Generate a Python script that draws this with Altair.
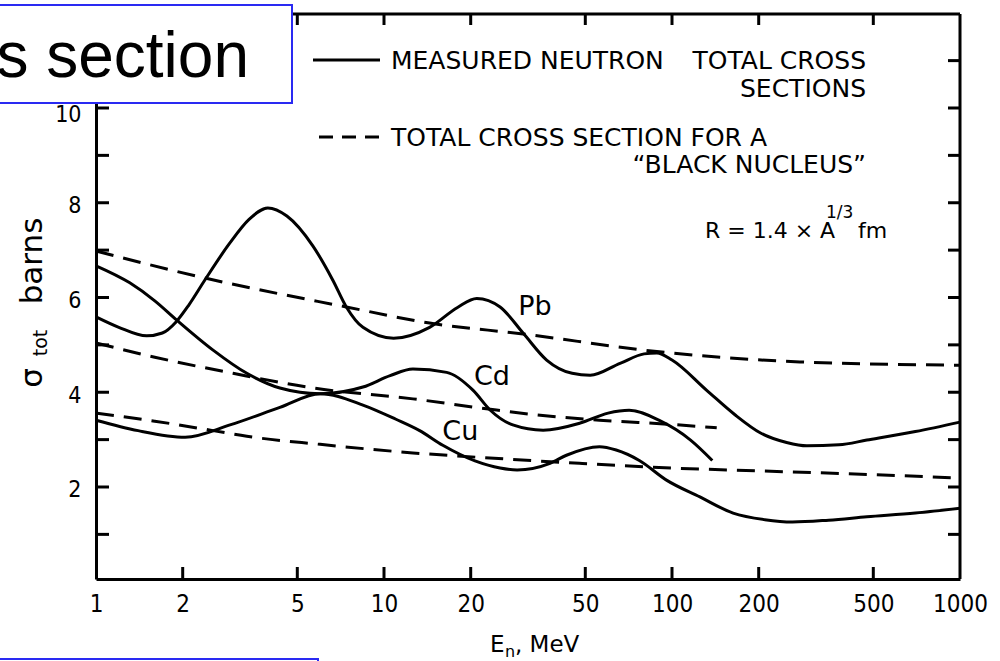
import altair as alt
import pandas as pd

# Neutron energy ticks (MeV) and cross-section ticks (barns)
x_label_values = [1, 2, 5, 10, 20, 50, 100, 200, 500, 1000]
x_inner_ticks = [2, 5, 10, 20, 50, 100, 200, 500]
y_label_values = [2, 4, 6, 8, 10]
y_ticks = [1, 2, 3, 4, 5, 6, 7, 8, 9, 10, 11]

# Measured neutron total cross sections (MeV, barns)
pb_e = [1, 1.2, 1.5, 1.7, 1.9, 2.1, 2.4, 2.9, 3.4, 3.95, 4.6, 5.66, 6.65, 7.4, 8.45, 10.8,
        14.4, 18, 21, 25.3, 30.4, 36.7, 45, 52, 66, 80, 88.6, 100, 132, 165, 203, 250,
        294, 380, 475, 700, 1000]
pb_s = [5.59, 5.37, 5.19, 5.25, 5.49, 5.84, 6.39, 7.13, 7.65, 7.89, 7.72, 7.09, 6.36, 5.80, 5.37, 5.14,
        5.37, 5.79, 5.98, 5.80, 5.25, 4.68, 4.40, 4.36, 4.61, 4.81, 4.83, 4.68, 4.04, 3.53, 3.14, 2.94,
        2.87, 2.89, 2.99, 3.17, 3.37]

cd_e = [1, 1.31, 1.6, 1.91, 2.55, 3.34, 4.35, 6.0, 8.45, 10.5, 12.6, 16.5, 20.4, 23.4, 28,
        35.7, 48, 60, 71, 90, 116, 138]
cd_s = [6.67, 6.31, 5.93, 5.52, 4.89, 4.40, 4.09, 3.97, 4.11, 4.35, 4.49, 4.42, 4.04, 3.62, 3.31,
        3.20, 3.35, 3.56, 3.62, 3.41, 2.99, 2.56]

cu_e = [1, 1.4, 2.04, 2.92, 4.35, 6.0, 8.45, 11, 13.3, 16, 20.7, 25.3, 29, 37.7, 43, 56, 64,
        77, 96, 125, 163, 210, 262, 350, 475, 700, 1000]
cu_s = [3.41, 3.19, 3.05, 3.31, 3.68, 3.97, 3.73, 3.43, 3.19, 2.88, 2.55, 2.40, 2.36, 2.50, 2.67, 2.85,
        2.78, 2.56, 2.14, 1.79, 1.45, 1.31, 1.26, 1.30, 1.37, 1.45, 1.55]

# Black-nucleus total cross sections, R = 1.4 A^(1/3) fm
pb_black_e = [1, 2.39, 7.4, 14.4, 30.4, 88.6, 278, 1000]
pb_black_s = [6.98, 6.41, 5.80, 5.46, 5.23, 4.86, 4.64, 4.57]

cd_black_e = [1, 1.6, 2.99, 5.66, 12.6, 23.4, 33, 56, 100, 143]
cd_black_s = [5.04, 4.74, 4.40, 4.09, 3.86, 3.64, 3.53, 3.41, 3.32, 3.25]

cu_black_e = [1, 1.6, 2.55, 3.34, 6, 12.6, 25, 47.7, 100, 200, 362, 1000]
cu_black_s = [3.56, 3.39, 3.19, 3.07, 2.90, 2.72, 2.60, 2.50, 2.40, 2.34, 2.29, 2.19]

# Curve labels: name, energy, cross section
curve_names = ["Pb", "Cd", "Cu"]
curve_label_e = [33.4, 23.7, 18.4]
curve_label_s = [5.63, 4.15, 2.99]


def series(name, e, s):
    return pd.DataFrame({"E": e, "sigma": s, "nucleus": name})


measured = pd.concat([series("Pb", pb_e, pb_s), series("Cd", cd_e, cd_s),
                      series("Cu", cu_e, cu_s)], ignore_index=True)
black = pd.concat([series("Pb", pb_black_e, pb_black_s), series("Cd", cd_black_e, cd_black_s),
                   series("Cu", cu_black_e, cu_black_s)], ignore_index=True)
labels = pd.DataFrame({"name": curve_names, "E": curve_label_e, "sigma": curve_label_s})
one = pd.DataFrame({"k": [0]})

W, H = 864, 565
INK = "black"
LW = 3
NUM_FONT = "'Liberation Sans Narrow', 'DejaVu Sans Condensed', sans-serif"
TXT_FONT = "'DejaVu Sans', sans-serif"
BLUE = "#2a2af2"

x_scale = alt.Scale(type="log", domain=[1, 1000], nice=False)
y_scale = alt.Scale(domain=[0.058, 11.984], nice=False, zero=False)

x_axis = alt.Axis(values=x_label_values, format="d", grid=False, ticks=False, title=None,
                  domainColor=INK, domainWidth=LW, labelFont=NUM_FONT, labelFontSize=24,
                  labelColor=INK, labelPadding=13, labelFlush=False, labelOverlap=False)
# the top label sits a little lower so it clears the caption box
y_axis = alt.Axis(values=y_label_values, format="d", grid=False, ticks=False, title=None,
                  domainColor=INK, domainWidth=LW, labelFont=NUM_FONT, labelFontSize=23,
                  labelColor=INK, labelPadding=15, labelOverlap=False,
                  labelOffset={"condition": {"test": "datum.value >= 10", "value": 7}, "value": 3})


def X():
    return alt.X("E:Q", scale=x_scale, axis=x_axis)


def Y():
    return alt.Y("sigma:Q", scale=y_scale, axis=y_axis)


solid = alt.Chart(measured).mark_line(interpolate="monotone", color=INK, strokeWidth=LW).encode(
    x=X(), y=Y(), detail="nucleus:N")

dashed = alt.Chart(black).mark_line(interpolate="monotone", color=INK, strokeWidth=LW,
                                    strokeDash=[18, 10]).encode(
    x=X(), y=Y(), detail="nucleus:N")

curve_text = alt.Chart(labels).mark_text(font=TXT_FONT, fontSize=27, color=INK, align="center",
                                         baseline="alphabetic").encode(
    x=X(), y=Y(), text="name:N")

# Frame: top and right edges plus inward ticks on all four sides
rule = dict(color=INK, strokeWidth=LW)
top_edge = alt.Chart(one).mark_rule(**rule).encode(x=alt.value(0), x2=alt.value(W), y=alt.value(0))
right_edge = alt.Chart(one).mark_rule(**rule).encode(x=alt.value(W), y=alt.value(0), y2=alt.value(H))

xt = pd.DataFrame({"E": x_inner_ticks})
yt = pd.DataFrame({"sigma": y_ticks})
bottom_ticks = alt.Chart(xt).mark_rule(**rule).encode(x=X(), y=alt.value(H), y2=alt.value(H - 12))
top_ticks = alt.Chart(xt).mark_rule(**rule).encode(x=X(), y=alt.value(0), y2=alt.value(11))
left_ticks = alt.Chart(yt).mark_rule(**rule).encode(y=Y(), x=alt.value(0), x2=alt.value(13))
right_ticks = alt.Chart(yt).mark_rule(**rule).encode(y=Y(), x=alt.value(W), x2=alt.value(W - 12))


def text(t, x, y, size, align="left", font=TXT_FONT, angle=0, color=INK):
    return alt.Chart(one).mark_text(text=t, align=align, baseline="alphabetic", fontSize=size,
                                    font=font, angle=angle, color=color).encode(
        x=alt.value(x), y=alt.value(y))


# Key for the line styles
key_solid = alt.Chart(one).mark_rule(color=INK, strokeWidth=LW).encode(
    x=alt.value(217), x2=alt.value(284), y=alt.value(46))
key_dashed = alt.Chart(one).mark_rule(color=INK, strokeWidth=LW, strokeDash=[14, 9]).encode(
    x=alt.value(223), x2=alt.value(284), y=alt.value(123))

key_text = [
    text("MEASURED NEUTRON", 295, 55, 25),
    text("TOTAL CROSS", 770, 55, 25, align="right"),
    text("SECTIONS", 770, 83, 25, align="right"),
    text("TOTAL CROSS SECTION FOR A", 295, 132, 25),
    text("\u201cBLACK NUCLEUS\u201d", 770, 159, 25, align="right"),
    text("R = 1.4 \u00d7 A", 609, 224, 22),
    text("1/3", 730, 204, 17),
    text("fm", 762, 224, 22),
]

# Axis titles
titles = [
    text("barns", -54, 247, 31, align="center", angle=270),
    text("\u03c3", -54, 364, 31, align="center", angle=270),
    text("tot", -49, 329, 19, align="center", angle=270),
    text("E", 394, 638, 23),
    text("n", 409, 643, 16),
    text(", MeV", 419, 638, 23),
]

# Slide captions overlapping the figure
caption_box = alt.Chart(one).mark_rect(fill="white", stroke=BLUE, strokeWidth=2).encode(
    x=alt.value(-120), x2=alt.value(196), y=alt.value(-9), y2=alt.value(89))
caption = text("Cross section", 153, 63, 64, align="right", font="'Liberation Sans', Arial, sans-serif")
lower_box = alt.Chart(one).mark_rect(fill="white", stroke=BLUE, strokeWidth=2).encode(
    x=alt.value(-120), x2=alt.value(222), y=alt.value(645), y2=alt.value(720))

chart = alt.layer(
    solid, dashed, curve_text, top_edge, right_edge, bottom_ticks, top_ticks, left_ticks,
    right_ticks, key_solid, key_dashed, *key_text, *titles, caption_box, caption, lower_box,
).properties(
    width=W, height=H,
    autosize=alt.AutoSizeParams(type="none"),
    padding={"left": 96, "top": 14, "right": 40, "bottom": 82},
    background="white",
).configure_view(stroke=None)

chart.save("out.html", embed_options={"renderer": "svg", "actions": False})
